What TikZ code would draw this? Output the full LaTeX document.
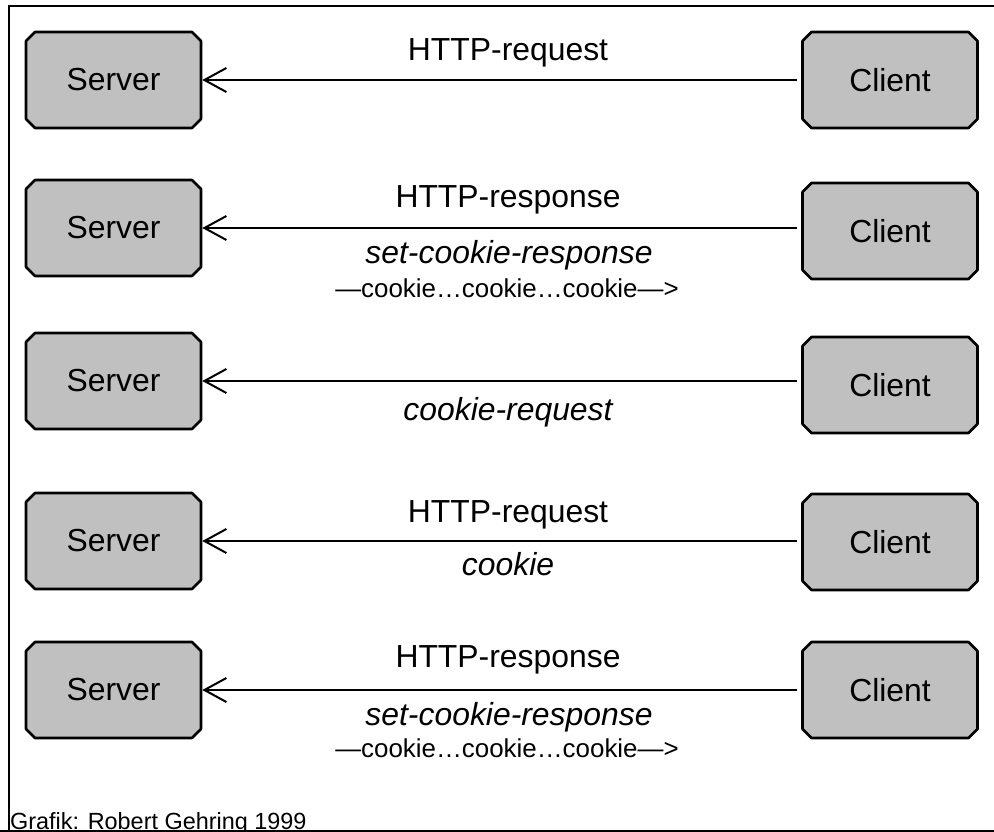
\documentclass[tikz,border=0pt]{standalone}
\usepackage{fontspec}
\setmainfont{Liberation Sans}
\usetikzlibrary{shapes.misc,arrows.meta}
\tikzset{
  box/.style={chamfered rectangle, chamfered rectangle xsep=4.5bp, chamfered rectangle ysep=4.5bp,
    draw=black, line width=2.6bp, fill=boxgray, inner sep=0pt,
    minimum width=175bp, minimum height=96bp, line join=round,
    font=\fontsize{32}{36}\selectfont},
  conn/.style={line width=2bp, -{Straight Barb[length=22bp, width=24bp, line width=2bp]}, shorten <=4bp},
  lbl/.style={anchor=base, inner sep=0pt, font=\fontsize{32}{36}\selectfont},
  ilbl/.style={anchor=base, inner sep=0pt, font=\fontsize{32}{36}\selectfont\itshape},
  slbl/.style={anchor=base, inner sep=0pt, font=\fontsize{26}{30}\selectfont},
  frame/.style={line width=2bp}
}
\definecolor{boxgray}{RGB}{192,192,192}
\begin{document}
\begin{tikzpicture}[x=1bp, y=-1bp]
\useasboundingbox (0,0) rectangle (994,832);
% frame
\draw[frame] (9,831) -- (9,6) -- (994,6);
\draw[frame] (0,830.5) -- (994,830.5);
% nodes
\node[box] (s1) at (113.5,80) {Server};
\node[box] (s2) at (113.5,228) {Server};
\node[box] (s3) at (113.5,381) {Server};
\node[box] (s4) at (113.5,541) {Server};
\node[box] (s5) at (113.5,690) {Server};
\node[box] (c1) at (890,80) {Client};
\node[box] (c2) at (890,231) {Client};
\node[box] (c3) at (890,385) {Client};
\node[box] (c4) at (890,542) {Client};
\node[box] (c5) at (890,690) {Client};
% connectors
\draw[conn] (c1.west |- s1.east) -- (s1.east);
\draw[conn] (c2.west |- s2.east) -- (s2.east);
\draw[conn] (c3.west |- s3.east) -- (s3.east);
\draw[conn] (c4.west |- s4.east) -- (s4.east);
\draw[conn] (c5.west |- s5.east) -- (s5.east);
% labels
\node[lbl] (l1) at (508,60) {HTTP-request};
\node[lbl] (l2) at (508,207) {HTTP-response};
\node[ilbl] (l2b) at (509,263) {set-cookie-response};
\node[slbl] (l2c) at (507,297) {—cookie…cookie…cookie—>};
\node[ilbl] (l3) at (508,420) {cookie-request};
\node[lbl] (l4) at (508,522) {HTTP-request};
\node[ilbl] (l4b) at (508,575) {cookie};
\node[lbl] (l5) at (508,667) {HTTP-response};
\node[ilbl] (l5b) at (509,725) {set-cookie-response};
\node[slbl] (l5c) at (507,757) {—cookie…cookie…cookie—>};
\node[anchor=base west, inner sep=0pt, font=\fontsize{23.5}{28}\selectfont] (credit) at (10,829) {Grafik: Robert Gehring 1999};
\end{tikzpicture}
\end{document}
